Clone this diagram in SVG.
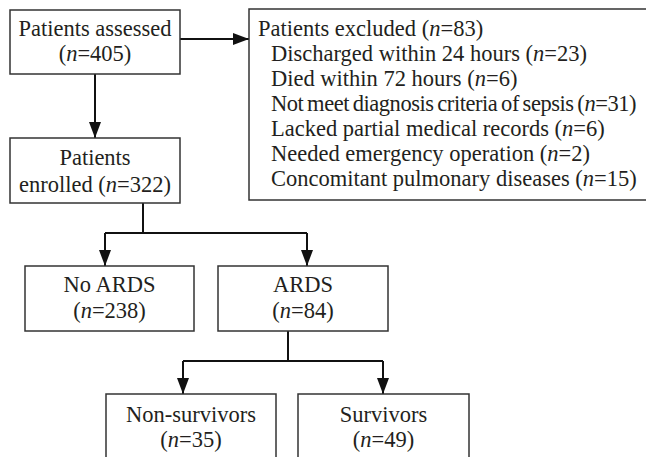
<svg xmlns="http://www.w3.org/2000/svg" width="646" height="457" viewBox="0 0 646 457" font-family="Liberation Serif, Times New Roman, serif">
<style>
.box{fill:#fff;stroke:#333;stroke-width:1.5}
.t{font-size:22.5px;fill:#231f20}
.c{text-anchor:middle}
.tight{letter-spacing:-0.45px;word-spacing:-1.5px}
.ln{fill:none;stroke:#111;stroke-width:2}
</style>
<defs>
<marker id="ah" markerUnits="userSpaceOnUse" markerWidth="16" markerHeight="12" viewBox="0 0 16 12" refX="16" refY="6" orient="auto">
<path d="M0,0 L16,6 L0,12 Z" fill="#111"/>
</marker>
</defs>
<rect width="646" height="457" fill="#fff"/>
<g id="connectors">
<path class="ln" d="M180,39 H249" marker-end="url(#ah)"/>
<path class="ln" d="M95,74 V138" marker-end="url(#ah)"/>
<path class="ln" d="M143,203 V233 M105,233 H307"/>
<path class="ln" d="M105,233 V266" marker-end="url(#ah)"/>
<path class="ln" d="M307,233 V266" marker-end="url(#ah)"/>
<path class="ln" d="M288,331 V361 M183,361 H383"/>
<path class="ln" d="M183,361 V394" marker-end="url(#ah)"/>
<path class="ln" d="M383,361 V394" marker-end="url(#ah)"/>
</g>
<g id="assessed">
<rect class="box" x="10" y="10" width="170" height="64"/>
<text class="t c" x="95" y="36">Patients assessed</text>
<text class="t c" x="95" y="61">(<tspan font-style="italic">n</tspan>=405)</text>
</g>
<g id="excluded">
<rect class="box" x="249" y="9" width="410" height="191"/>
<text class="t" x="258" y="36">Patients excluded (<tspan font-style="italic">n</tspan>=83)</text>
<text class="t" x="271" y="61">Discharged within 24 hours (<tspan font-style="italic">n</tspan>=23)</text>
<text class="t" x="271" y="86">Died within 72 hours (<tspan font-style="italic">n</tspan>=6)</text>
<text class="t tight" x="271" y="111">Not meet diagnosis criteria of sepsis (<tspan font-style="italic">n</tspan>=31)</text>
<text class="t" x="271" y="136">Lacked partial medical records (<tspan font-style="italic">n</tspan>=6)</text>
<text class="t" x="271" y="161">Needed emergency operation (<tspan font-style="italic">n</tspan>=2)</text>
<text class="t" x="271" y="186">Concomitant pulmonary diseases (<tspan font-style="italic">n</tspan>=15)</text>
</g>
<g id="enrolled">
<rect class="box" x="10" y="138" width="170" height="65"/>
<text class="t c" x="95" y="165">Patients</text>
<text class="t c" x="95" y="192">enrolled (<tspan font-style="italic">n</tspan>=322)</text>
</g>
<g id="noards">
<rect class="box" x="25" y="266" width="169" height="65"/>
<text class="t c" x="109.5" y="292">No ARDS</text>
<text class="t c" x="109.5" y="318">(<tspan font-style="italic">n</tspan>=238)</text>
</g>
<g id="ards">
<rect class="box" x="218" y="266" width="170" height="65"/>
<text class="t c" x="303" y="292">ARDS</text>
<text class="t c" x="303" y="318">(<tspan font-style="italic">n</tspan>=84)</text>
</g>
<g id="nonsurvivors">
<rect class="box" x="106" y="394" width="170" height="80"/>
<text class="t c" x="191" y="422">Non-survivors</text>
<text class="t c" x="191" y="447">(<tspan font-style="italic">n</tspan>=35)</text>
</g>
<g id="survivors">
<rect class="box" x="298" y="394" width="171" height="80"/>
<text class="t c" x="383.5" y="422">Survivors</text>
<text class="t c" x="383.5" y="447">(<tspan font-style="italic">n</tspan>=49)</text>
</g>
</svg>
